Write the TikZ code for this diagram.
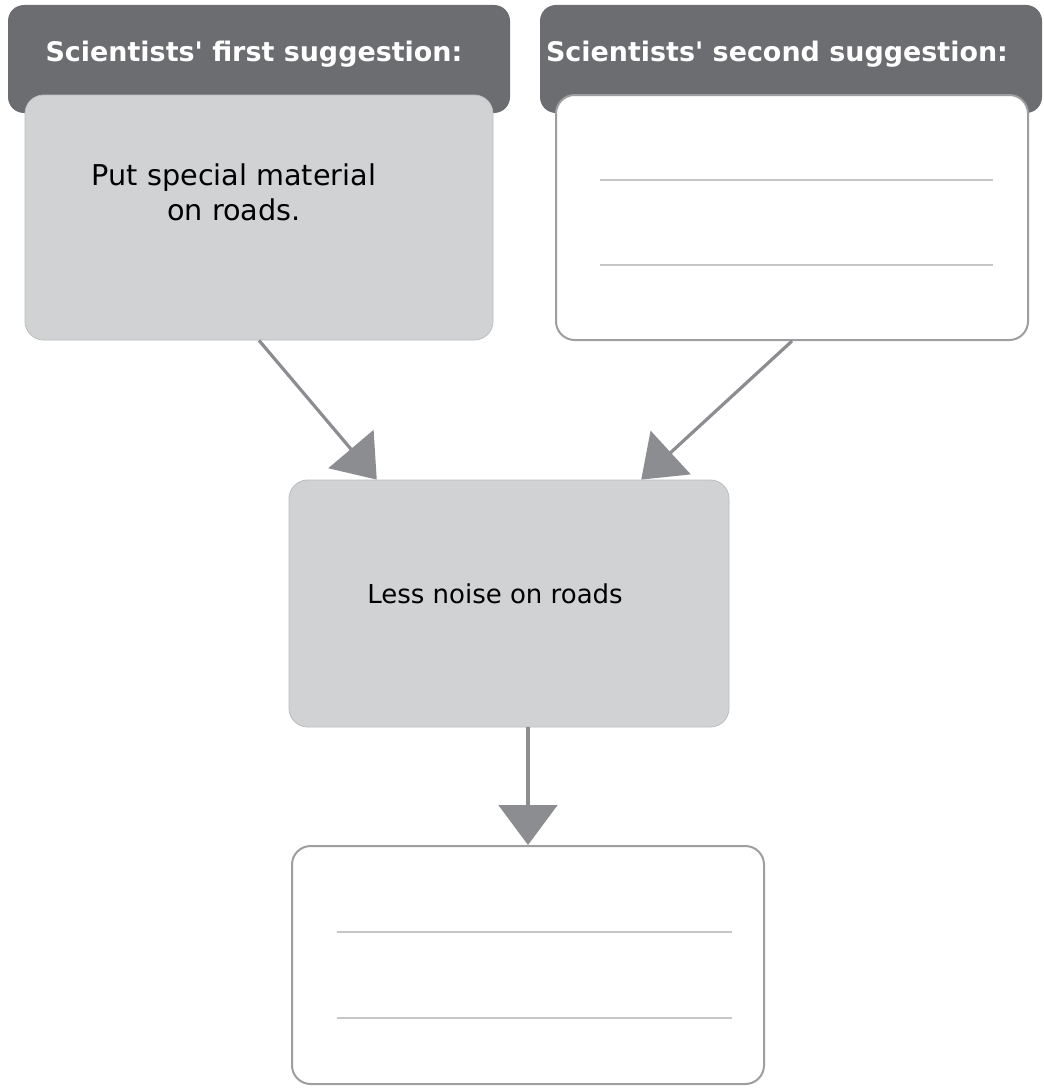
\documentclass[tikz,border=0pt]{standalone}
\usepackage{fontspec}
\setmainfont{DejaVu Sans}
\usetikzlibrary{arrows.meta,calc}
\definecolor{hdr}{HTML}{6C6D71}
\definecolor{boxgray}{HTML}{D1D2D4}
\definecolor{edge}{HTML}{9D9EA0}
\definecolor{rule}{HTML}{C5C6C8}
\definecolor{arr}{HTML}{8C8D91}
\begin{document}
\begin{tikzpicture}[x=0.75pt,y=-0.75pt,
  header/.style={draw=none,fill=hdr,rounded corners=12pt,inner sep=0pt,minimum width=#1*0.75pt,minimum height=108*0.75pt},
  graybox/.style={fill=boxgray,draw=boxgray!90!black,line width=0.6pt,rounded corners=14pt,inner sep=0pt},
  whitebox/.style={fill=white,draw=edge,line width=1.5pt,rounded corners=14pt,inner sep=0pt},
  htext/.style={text=white,font=\bfseries\fontsize{20.2}{24}\selectfont,inner sep=0pt},
  btext/.style={text=black,font=\fontsize{#1}{26}\selectfont,align=center,inner sep=0pt},
  rl/.style={draw=rule,line width=1.6pt},
  conn/.style={draw=arr,line width=2.4pt,-{Triangle[length=30pt,width=44pt]}}]
\useasboundingbox (0,0) rectangle (1043,1088);
\fill[white] (0,0) rectangle (1043,1088);
% headers
\node[header=502] (hA) at (259,59) {};
\node[header=502] (hB) at (791,59) {};
\node[htext] (tA) at (254,54) {Scientists\textquotesingle{} first suggestion:};
\node[htext] (tB) at (777,54) {Scientists\textquotesingle{} second suggestion:};
% content boxes
\node[graybox,minimum width=468*0.75pt,minimum height=245*0.75pt] (first) at (259,217.5) {};
\node[whitebox,minimum width=472*0.75pt,minimum height=245*0.75pt] (second) at (792,217.5) {};
\node[btext=21.5] (ftext) at (234,192) {Put special material\\ on roads.};
\draw[rl] (600,180) -- (993,180);
\draw[rl] (600,265) -- (993,265);
% middle box
\node[graybox,minimum width=440*0.75pt,minimum height=247*0.75pt] (mid) at (509,603.5) {};
\node[btext=19.5] (mtext) at (495,594) {Less noise on roads};
% result box
\node[whitebox,minimum width=472*0.75pt,minimum height=238*0.75pt] (res) at (528,965) {};
\draw[rl] (337,932) -- (732,932);
\draw[rl] (337,1018) -- (732,1018);
% connectors
\draw[conn] (first.south) -- ($(mid.north west)!0.2!(mid.north east)$);
\draw[conn] (second.south) -- ($(mid.north west)!0.8!(mid.north east)$);
\draw[conn] (mid.south -| res.north) -- (res.north);
\end{tikzpicture}
\end{document}
